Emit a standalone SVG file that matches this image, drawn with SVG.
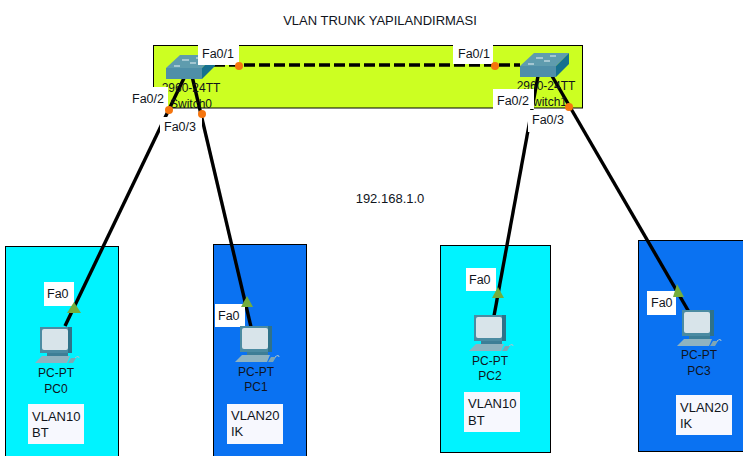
<svg xmlns="http://www.w3.org/2000/svg" width="743" height="456" viewBox="0 0 743 456">
<style>
text{font-family:"Liberation Sans",Arial,sans-serif;font-size:12px;fill:#10141c}
.m{text-anchor:middle}
.f{font-size:12.500px}
.b{font-size:13px}
.box{stroke:#000;stroke-width:1}
.lb{fill:#fff}
.nb{fill:#f7f8fe}
.link{stroke:#000;stroke-width:3.400;fill:none}
.dot{fill:#f5750f}
.tri{fill:#74ad3c}
</style>
<defs>
<g id="sw">
<path d="M0 13L14 0H49L36 13Z" fill="#5f9cae"/>
<path d="M0 13H36V24H0Z" fill="#4f8fa8"/>
<path d="M36 13L49 0V11L36 24Z" fill="#16708f"/>
<path d="M8 11H14M16 5H23M30 3H36M24 8H30" stroke="#e8f2f5" stroke-width="1.200" fill="none"/>
</g>
<g id="pc">
<path d="M5 0H37V26H5Z" fill="#4b8ba2"/>
<path d="M33 0H37V26H33Z" fill="#2f7289"/>
<rect x="7" y="2" width="26" height="21" rx="2" fill="#d8e4ea"/>
<path d="M12 26H33V29H12Z" fill="#3d7e96"/>
<path d="M7 29H35L32 36H0Z" fill="#8fb3c0"/>
<path d="M36 31H41L38 36H33Z" fill="#7ea6b5"/>
<path d="M40 31q4-3 4 0" stroke="#a9c4cf" fill="none"/>
</g>
</defs>
<rect width="743" height="456" fill="#fff"/>
<g id="zone-top"><rect class="box" x="153.500" y="45.500" width="429" height="62.500" fill="#ccff22"/></g>
<g id="zone-pc0"><rect class="box" x="5.500" y="246.500" width="113" height="210" fill="#00f3ff"/></g>
<g id="zone-pc1"><rect class="box" x="213.500" y="244.500" width="93" height="212" fill="#0a72f2"/></g>
<g id="zone-pc2"><rect class="box" x="440.500" y="245.500" width="110" height="207" fill="#00f3ff"/></g>
<g id="zone-pc3"><rect class="box" x="638.500" y="240.500" width="105" height="211" fill="#0a72f2"/></g>
<g id="connectors">
<path class="link" d="M214 65H520" stroke-dasharray="11 4"/>
<path class="link" d="M185 76L65 326"/>
<path class="link" d="M192 76L251 327"/>
<path class="link" d="M538 76L494 316"/>
<path class="link" d="M552 76L689 312"/>
</g>
<g id="title"><text class="m b" x="380" y="25">VLAN TRUNK YAPILANDIRMASI</text></g>
<g id="network"><text class="m b" x="390" y="203">192.168.1.0</text></g>
<g id="switch0"><use href="#sw" x="166" y="55"/><text class="m" x="191" y="92">2960-24TT</text><text class="m" x="191" y="108">Switch0</text></g>
<g id="switch1"><use href="#sw" x="520" y="53"/><text class="m" x="546" y="90">2960-24TT</text><text class="m" x="546" y="106">Switch1</text></g>
<g id="labels">
<rect class="lb" x="198" y="45" width="41" height="20"/><text class="f" x="202" y="58">Fa0/1</text>
<rect class="lb" x="453" y="45" width="40" height="19"/><text class="f" x="458" y="58">Fa0/1</text>
<rect class="lb" x="128" y="87" width="40" height="22"/><text class="f" x="132" y="103">Fa0/2</text>
<rect class="lb" x="160" y="117" width="42" height="21"/><text class="f" x="164" y="131">Fa0/3</text>
<rect class="lb" x="493" y="89" width="41" height="20"/><text class="f" x="497" y="105">Fa0/2</text>
<rect class="lb" x="528" y="110" width="41" height="22"/><text class="f" x="532" y="124">Fa0/3</text>
<rect class="lb" x="44" y="282" width="30" height="24"/><text class="f" x="47" y="298">Fa0</text>
<rect class="lb" x="215" y="304" width="30" height="23"/><text class="f" x="218" y="320">Fa0</text>
<rect class="lb" x="466" y="268" width="30" height="23"/><text class="f" x="469" y="284">Fa0</text>
<rect class="lb" x="647" y="291" width="29" height="24"/><text class="f" x="651" y="307">Fa0</text>
</g>
<g id="markers">
<circle class="dot" cx="239" cy="66" r="4"/>
<circle class="dot" cx="495" cy="66" r="4"/>
<circle class="dot" cx="169" cy="110" r="4"/>
<circle class="dot" cx="202" cy="114" r="4"/>
<circle class="dot" cx="569" cy="107" r="4"/>
<path class="tri" d="M74 302L81 313H67Z"/>
<path class="tri" d="M247 296L253 307H241Z"/>
<path class="tri" d="M498 287L504 298H492Z"/>
<path class="tri" d="M677 284L684 297L673 297Z"/>
</g>
<g id="pc0"><use href="#pc" x="35" y="327"/><text class="m" x="56" y="377">PC-PT</text><text class="m" x="56" y="393">PC0</text><rect class="nb" x="28" y="404" width="56" height="40"/><text class="b" x="32" y="421">VLAN10</text><text class="b" x="32" y="437">BT</text></g>
<g id="pc1"><use href="#pc" x="235" y="326"/><text class="m" x="256" y="376">PC-PT</text><text class="m" x="256" y="391">PC1</text><rect class="nb" x="227" y="404" width="56" height="40"/><text class="b" x="231" y="420">VLAN20</text><text class="b" x="231" y="436">IK</text></g>
<g id="pc2"><use href="#pc" x="469" y="315"/><text class="m" x="490" y="365">PC-PT</text><text class="m" x="490" y="380">PC2</text><rect class="nb" x="464" y="392" width="56" height="40"/><text class="b" x="468" y="408">VLAN10</text><text class="b" x="468" y="425">BT</text></g>
<g id="pc3"><use href="#pc" x="677" y="310"/><text class="m" x="699" y="359">PC-PT</text><text class="m" x="699" y="375">PC3</text><rect class="nb" x="676" y="395" width="56" height="40"/><text class="b" x="680" y="412">VLAN20</text><text class="b" x="680" y="428">IK</text></g>
</svg>
